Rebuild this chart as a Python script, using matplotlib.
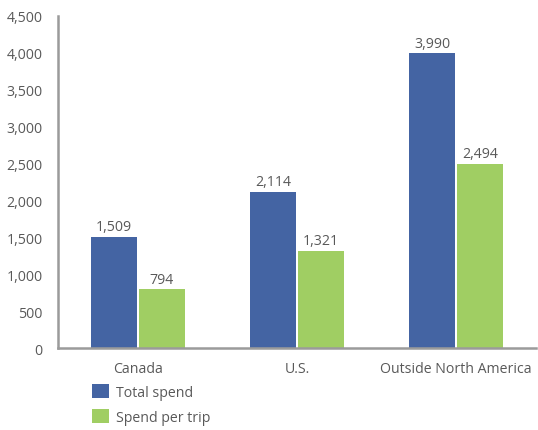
import matplotlib
matplotlib.use("Agg")
import matplotlib.pyplot as plt
from matplotlib.patches import Patch
from matplotlib.ticker import FuncFormatter
import numpy as np

categories = ["Canada", "U.S.", "Outside North America"]
total_spend = [1509, 2114, 3990]
spend_per_trip = [794, 1321, 2494]
series_names = ["Total spend", "Spend per trip"]
yticks = [0, 500, 1000, 1500, 2000, 2500, 3000, 3500, 4000, 4500]

blue = "#4464A3"
green = "#A0CE63"
text_color = "#595959"
axis_color = "#9B9B9B"
fs = 10.2

plt.rcParams["font.family"] = ["Open Sans", "DejaVu Sans"]

fig = plt.figure(figsize=(5.38, 4.31), dpi=100)
ax = fig.add_axes([0.108, 0.190, 0.888, 0.771])

x = np.arange(len(categories))
w = 0.29
gap = 0.006
b1 = ax.bar(x - w / 2 - gap, total_spend, w, color=blue)
b2 = ax.bar(x + w / 2 + gap, spend_per_trip, w, color=green)

for bars, vals in ((b1, total_spend), (b2, spend_per_trip)):
    for rect, v in zip(bars, vals):
        ax.text(rect.get_x() + rect.get_width() / 2, v + 35, f"{v:,}",
                ha="center", va="bottom", fontsize=fs, color=text_color)

ax.set_xlim(-0.5, len(categories) - 0.5)
ax.set_ylim(0, 4500)
ax.set_yticks(yticks)
ax.yaxis.set_major_formatter(FuncFormatter(lambda v, p: f"{int(v):,}"))
ax.set_xticks(x)
ax.set_xticklabels(categories)

for side in ("top", "right"):
    ax.spines[side].set_visible(False)
for side in ("left", "bottom"):
    ax.spines[side].set_color(axis_color)
    ax.spines[side].set_linewidth(1.8)
ax.tick_params(axis="both", length=0, labelsize=fs, colors=text_color)
ax.tick_params(axis="y", pad=11)
ax.tick_params(axis="x", pad=9)

handles = [Patch(facecolor=blue), Patch(facecolor=green)]
fig.legend(handles, series_names, loc="upper left", bbox_to_anchor=(0.171, 0.107),
           frameon=False, fontsize=fs, labelcolor=text_color,
           handlelength=1.2, handleheight=1.2, handletextpad=0.5,
           labelspacing=0.62, borderpad=0, borderaxespad=0)

fig.savefig("out.png", dpi=100)
